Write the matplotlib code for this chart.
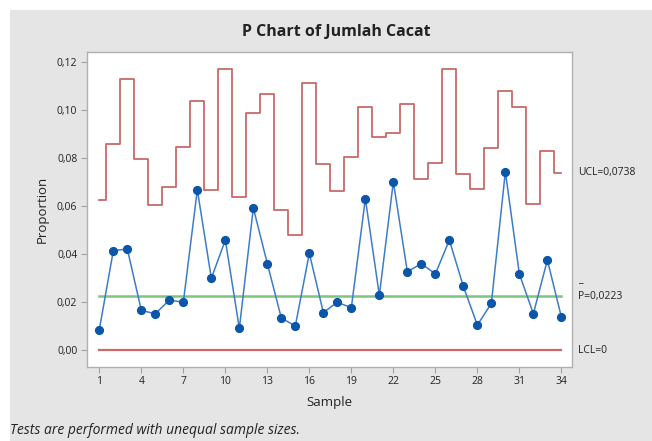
import matplotlib
matplotlib.use("Agg")
import matplotlib.pyplot as plt
import matplotlib.transforms as mtransforms
from matplotlib.patches import Rectangle

plt.rcParams['font.family'] = ['Open Sans', 'DejaVu Sans']

samples = list(range(1, 35))
proportion = [0.0085, 0.0414, 0.0421, 0.0165, 0.0151, 0.0208, 0.0199, 0.0668, 0.0299, 0.0458,
              0.0090, 0.0592, 0.0360, 0.0133, 0.0100, 0.0403, 0.0156, 0.0199, 0.0176, 0.0631,
              0.0228, 0.0701, 0.0326, 0.0360, 0.0317, 0.0458, 0.0265, 0.0104, 0.0194, 0.0743,
              0.0317, 0.0151, 0.0375, 0.0138]
ucl = [0.0625, 0.0860, 0.1130, 0.0796, 0.0604, 0.0678, 0.0847, 0.1036, 0.0667, 0.1172,
       0.0636, 0.0989, 0.1065, 0.0583, 0.0479, 0.1114, 0.0776, 0.0664, 0.0804, 0.1011,
       0.0888, 0.0904, 0.1025, 0.0711, 0.0781, 0.1171, 0.0732, 0.0672, 0.0842, 0.1081,
       0.1011, 0.0607, 0.0831, 0.0738]
center = 0.0223
lcl = 0.0
xticks = [1, 4, 7, 10, 13, 16, 19, 22, 25, 28, 31, 34]
yticks = [0.00, 0.02, 0.04, 0.06, 0.08, 0.10, 0.12]
ytick_labels = ["0,00", "0,02", "0,04", "0,06", "0,08", "0,10", "0,12"]

W, H = 652, 441
fig = plt.figure(figsize=(W / 100, H / 100), dpi=100)
fig.patch.set_facecolor('white')
bg = Rectangle((10 / W, 0), 1 - 10 / W, 1 - 10 / H, transform=fig.transFigure,
               facecolor='#e5e5e5', edgecolor='none', zorder=-10)
fig.patches.append(bg)

ax = fig.add_axes([87 / W, (H - 366.7) / H, (572 - 87) / W, (366.7 - 52) / H])
ax.set_zorder(5)
ax.set_facecolor('white')

red = '#c0504d'
ax.plot(samples, ucl, drawstyle='steps-mid', color=red, lw=1.3, alpha=0.85, zorder=2)
ax.plot([samples[0], samples[-1]], [lcl, lcl], color=red, lw=1.6, alpha=0.85, zorder=2)
ax.plot([samples[0], samples[-1]], [center, center], color='#6fbf73', lw=1.8, alpha=0.9, zorder=2)
ax.plot(samples, proportion, color='#3d7cc9', lw=1.1, marker='o', markersize=5.6,
        markerfacecolor='#0b56a8', markeredgecolor='#0b56a8', zorder=3)

ax.set_xlim(0.12, 34.76)
ax.set_ylim(-0.00696, 0.1242)
ax.set_xticks(xticks)
ax.set_xticklabels([str(t) for t in xticks])
ax.set_yticks(yticks)
ax.set_yticklabels(ytick_labels)
ax.tick_params(axis='both', direction='out', length=4, width=0.8, color='#a0a0a0',
               labelsize=7.5, labelcolor='#222222', pad=3)
for s in ax.spines.values():
    s.set_color('#b0b0b0')
    s.set_linewidth(1.0)

ax.set_xlabel('Sample', fontsize=9.5, color='#222222', labelpad=6)
ax.set_ylabel('Proportion', fontsize=9.5, color='#222222', labelpad=6)

fig.text(336 / W, 1 - 32 / H, 'P Chart of Jumlah Cacat', ha='center', va='center',
         fontsize=11.5, fontweight='bold', color='#222222')

trans = mtransforms.blended_transform_factory(ax.transAxes, ax.transData)
lx = 1 + (578 - 572) / (572 - 87)
ax.text(lx, ucl[-1], 'UCL=0,0738', transform=trans, ha='left', va='center', fontsize=7.5,
        color='#222222', clip_on=False)
ax.text(lx, center, 'P=0,0223', transform=trans, ha='left', va='center', fontsize=7.5,
        color='#222222', clip_on=False)
ax.text(lx, center + 11 / 2400, '_', transform=trans, ha='left', va='bottom', fontsize=7.5,
        color='#222222', clip_on=False)
ax.text(lx, lcl, 'LCL=0', transform=trans, ha='left', va='center', fontsize=7.5,
        color='#222222', clip_on=False)

fig.text(10 / W, 1 - 431 / H, 'Tests are performed with unequal sample sizes.', ha='left',
         va='center', fontsize=10, style='italic', color='#222222')

fig.savefig('out.png', dpi=100)
